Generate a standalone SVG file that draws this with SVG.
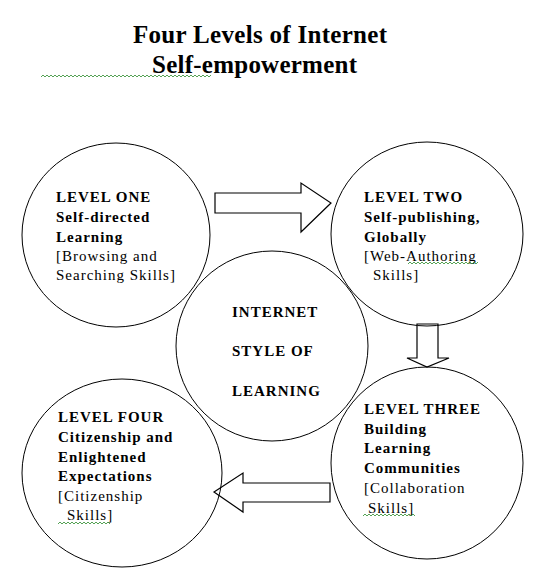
<svg xmlns="http://www.w3.org/2000/svg" width="550" height="582" viewBox="0 0 550 582">
<style>
.c{fill:none;stroke:#000;stroke-width:1}
.a{fill:#fff;stroke:#000;stroke-width:1.2;stroke-linejoin:miter}
.t{font-family:"Liberation Serif","Times New Roman",serif;font-size:15px;fill:#000;letter-spacing:1px}
.b{font-weight:bold}
.h{font-family:"Liberation Serif","Times New Roman",serif;font-size:25px;font-weight:bold;fill:#000}
.sq{fill:none;stroke:#2a8a2a;stroke-width:0.8}
</style>
<rect width="550" height="582" fill="#fff"/>
<g id="title">
<text class="h" x="133" y="43" textLength="254">Four Levels of Internet</text>
<text class="h" x="152" y="73" textLength="205">Self-empowerment</text>
<path class="sq" d="M41,77 l2,-2 l2,2 l2,-2 l2,2 l2,-2 l2,2 l2,-2 l2,2 l2,-2 l2,2 l2,-2 l2,2 l2,-2 l2,2 l2,-2 l2,2 l2,-2 l2,2 l2,-2 l2,2 l2,-2 l2,2 l2,-2 l2,2 l2,-2 l2,2 l2,-2 l2,2 l2,-2 l2,2 l2,-2 l2,2 l2,-2 l2,2 l2,-2 l2,2 l2,-2 l2,2 l2,-2 l2,2 l2,-2 l2,2 l2,-2 l2,2 l2,-2 l2,2 l2,-2 l2,2 l2,-2 l2,2 l2,-2 l2,2 l2,-2 l2,2 l2,-2 l2,2 l2,-2 l2,2 l2,-2 l2,2 l2,-2 l2,2 l2,-2 l2,2 l2,-2 l2,2 l2,-2 l2,2 l2,-2 l2,2 l2,-2 l2,2 l2,-2 l2,2 l2,-2 l2,2 l2,-2 l2,2 l2,-2 l2,2 l2,-2 l2,2 l2,-2 l2,2 l2,-2"/>
</g>
<g id="connectors">
<polygon class="a" points="215,193 301,193 301,183 331,203 301,232 301,213 215,213"/>
<polygon class="a" points="417,324 438,324 438,358 449,358 427,367 407,358 417,358"/>
<polygon class="a" points="330,483 243,483 243,473 214,492 243,512 243,502 330,502"/>
</g>
<g id="level-one">
<ellipse class="c" cx="116" cy="235" rx="94" ry="92"/>
<text class="t b" x="56" y="202">LEVEL ONE</text>
<text class="t b" x="56" y="222">Self-directed</text>
<text class="t b" x="56" y="242">Learning</text>
<text class="t" x="56" y="261">[Browsing and</text>
<text class="t" x="56" y="280">Searching Skills]</text>
</g>
<g id="level-two">
<ellipse class="c" cx="427" cy="234" rx="96" ry="92"/>
<text class="t b" x="364" y="202">LEVEL TWO</text>
<text class="t b" x="364" y="222">Self-publishing,</text>
<text class="t b" x="364" y="242">Globally</text>
<text class="t" x="364" y="261">[Web-Authoring</text>
<text class="t" x="373" y="280">Skills]</text>
<path class="sq" d="M408,264 l2,-2 l2,2 l2,-2 l2,2 l2,-2 l2,2 l2,-2 l2,2 l2,-2 l2,2 l2,-2 l2,2 l2,-2 l2,2 l2,-2 l2,2 l2,-2 l2,2 l2,-2 l2,2 l2,-2 l2,2 l2,-2 l2,2 l2,-2 l2,2 l2,-2 l2,2 l2,-2 l2,2 l2,-2 l2,2 l2,-2 l2,2 l2,-2"/>
</g>
<g id="center">
<ellipse class="c" cx="272" cy="346" rx="96" ry="95"/>
<text class="t b" x="232" y="317">INTERNET</text>
<text class="t b" x="232" y="356">STYLE OF</text>
<text class="t b" x="232" y="396">LEARNING</text>
</g>
<g id="level-three">
<ellipse class="c" cx="427" cy="463" rx="96" ry="96"/>
<text class="t b" x="364" y="414">LEVEL THREE</text>
<text class="t b" x="364" y="434">Building</text>
<text class="t b" x="364" y="453">Learning</text>
<text class="t b" x="364" y="473">Communities</text>
<text class="t" x="364" y="493">[Collaboration</text>
<text class="t" x="368" y="513">Skills]</text>
<path class="sq" d="M363,516 l2,-2 l2,2 l2,-2 l2,2 l2,-2 l2,2 l2,-2 l2,2 l2,-2 l2,2 l2,-2 l2,2 l2,-2 l2,2 l2,-2 l2,2 l2,-2 l2,2 l2,-2 l2,2 l2,-2 l2,2 l2,-2 l2,2 l2,-2 l2,2"/>
</g>
<g id="level-four">
<ellipse class="c" cx="122" cy="473" rx="100" ry="94"/>
<text class="t b" x="58" y="422">LEVEL FOUR</text>
<text class="t b" x="58" y="442">Citizenship and</text>
<text class="t b" x="58" y="462">Enlightened</text>
<text class="t b" x="58" y="481">Expectations</text>
<text class="t" x="58" y="501">[Citizenship</text>
<text class="t" x="67" y="520">Skills]</text>
<path class="sq" d="M58,524 l2,-2 l2,2 l2,-2 l2,2 l2,-2 l2,2 l2,-2 l2,2 l2,-2 l2,2 l2,-2 l2,2 l2,-2 l2,2 l2,-2 l2,2 l2,-2 l2,2 l2,-2 l2,2 l2,-2 l2,2 l2,-2 l2,2 l2,-2 l2,2"/>
</g>
</svg>
